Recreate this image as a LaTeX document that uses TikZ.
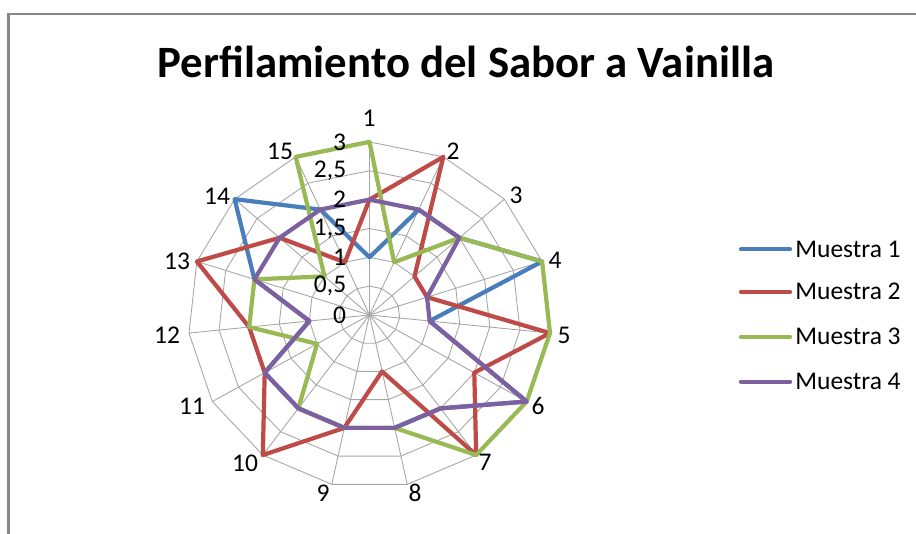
\documentclass[tikz,border=0pt]{standalone}
\usepackage{fontspec}
\setmainfont{Carlito}

\definecolor{serieA}{HTML}{4A7EBB}
\definecolor{serieB}{HTML}{BE4B48}
\definecolor{serieC}{HTML}{98B954}
\definecolor{serieD}{HTML}{7D60A0}
\definecolor{rejillagris}{HTML}{A6A6A6}
\definecolor{marco}{HTML}{878787}

\tikzset{
  rejilla/.style={draw=rejillagris, line width=0.5pt},
  serie/.style={line width=2.4pt, line join=round},
  etiq/.style={font=\fontsize{14.5}{17}\selectfont, inner sep=0pt},
}

\begin{document}
\begin{tikzpicture}
				\useasboundingbox (0,0) rectangle (18.32,10.68);
				\draw[line width=1.2pt, marco] (0.17,0) -- (0.17,10.4) -- (18.32,10.4);
				\node (titulo) at (9.32,9.44) {\fontsize{25.5}{30}\selectfont\bfseries Perfilamiento del Sabor a Vainilla};
				\begin{scope}[shift={(7.39,4.38)}, x=1.21cm, y=1.154cm]
					% rejilla
					\foreach \r in {0.5,1,...,3}
						\draw[rejilla] (90:\r) \foreach \k in {1,...,14} { -- ({90-24*\k}:\r) } -- cycle;
					\foreach \k in {0,...,14}
						\draw[rejilla] (0,0) -- ({90-24*\k}:3);
					% muestras
					\draw[serie, serieA] (90:1) \foreach \v [count=\k] in {2,2,3,1,3,2,2,2,2,2,1,2,3,2} { -- ({90-24*\k}:\v) } -- cycle;
					\draw[serie, serieB] (90:2) \foreach \v [count=\k] in {3,1,1,3,2,3,1,2,3,2,2,3,2,1} { -- ({90-24*\k}:\v) } -- cycle;
					\draw[serie, serieC] (90:3) \foreach \v [count=\k] in {1,2,3,3,3,3,2,2,2,1,2,2,1,3} { -- ({90-24*\k}:\v) } -- cycle;
					\draw[serie, serieD] (90:2) \foreach \v [count=\k] in {2,2,1,1,3,2,2,2,2,2,1,2,2,2} { -- ({90-24*\k}:\v) } -- cycle;
					% escala
					\foreach \r/\t [count=\i] in {0/0, 0.5/{0,5}, 1/1, 1.5/{1,5}, 2/2, 2.5/{2,5}, 3/3}
						\node[etiq, anchor=east] (esc\i) at (-0.38,\r) {\t};
				\end{scope}
				% ejes
				\foreach \n/\px/\py in {1/369/118, 2/453/151, 3/516/195, 4/555/260, 5/564/335,
						6/538/406, 7/485/462, 8/415/493, 9/323/493, 10/245/463,
						11/192/406, 12/167/335, 13/177/261, 14/217/196, 15/280/151}
					\node[etiq] (eje\n) at ({\px*0.02},{10.68-\py*0.02}) {\n};
				% leyenda
				\node[etiq, anchor=west] (leyA) at (15.9,5.694) {Muestra 1};
				\node[etiq, anchor=west] (leyB) at (15.9,4.846) {Muestra 2};
				\node[etiq, anchor=west] (leyC) at (15.9,3.946) {Muestra 3};
				\node[etiq, anchor=west] (leyD) at (15.9,3.046) {Muestra 4};
				\draw[serie, serieA, line cap=round] ([xshift=-1.08cm]leyA.west) -- ([xshift=-0.1cm]leyA.west);
				\draw[serie, serieB, line cap=round] ([xshift=-1.08cm]leyB.west) -- ([xshift=-0.1cm]leyB.west);
				\draw[serie, serieC, line cap=round] ([xshift=-1.08cm]leyC.west) -- ([xshift=-0.1cm]leyC.west);
				\draw[serie, serieD, line cap=round] ([xshift=-1.08cm]leyD.west) -- ([xshift=-0.1cm]leyD.west);
			\end{tikzpicture}
\end{document}
